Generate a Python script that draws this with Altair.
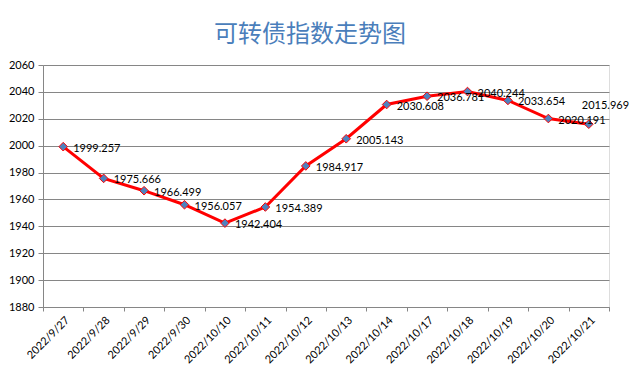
import altair as alt
import pandas as pd

dates = ["2022/9/27", "2022/9/28", "2022/9/29", "2022/9/30", "2022/10/10",
         "2022/10/11", "2022/10/12", "2022/10/13", "2022/10/14", "2022/10/17",
         "2022/10/18", "2022/10/19", "2022/10/20", "2022/10/21"]
values = [1999.257, 1975.666, 1966.499, 1956.057, 1942.404,
          1954.389, 1984.917, 2005.143, 2030.608, 2036.781,
          2040.244, 2033.654, 2020.191, 2015.969]

df = pd.DataFrame({"date": dates, "value": values})
df["label"] = df["value"].map(lambda v: f"{v:.3f}")
df["idx"] = range(len(df))
last = len(df) - 1

x = alt.X("date:N", sort=None, title=None,
          scale=alt.Scale(paddingInner=0, paddingOuter=0),
          axis=alt.Axis(labelAngle=-45, labelFontSize=11, labelColor="#000000",
                        labelFont="Lato", tickBand="extent", tickColor="#868686",
                        domainColor="#868686", tickSize=4, labelPadding=3,
                        grid=False))
y = alt.Y("value:Q", title=None,
          scale=alt.Scale(domain=[1880, 2060], nice=False, zero=False),
          axis=alt.Axis(values=list(range(1880, 2061, 20)), format="d", labelFontSize=11,
                        labelColor="#000000", labelFont="Lato", gridColor="#868686",
                        domainColor="#868686", tickColor="#868686", tickSize=5,
                        labelPadding=4))

base = alt.Chart(df).encode(x=x, y=y)

line = base.mark_line(color="#FF0000", strokeWidth=3)
pts = base.mark_point(shape="diamond", filled=True, fill="#4F81BD",
                      stroke="#FF0000", strokeWidth=1, opacity=1, size=75)
labels = base.mark_text(align="left", baseline="middle", dx=10, dy=2,
                        fontSize=11, font="Lato", color="#000000").encode(
    text="label:N").transform_filter(alt.datum.idx < last)
last_label = base.mark_text(align="left", baseline="middle", dx=-7, dy=-18,
                            fontSize=11, font="Lato", color="#000000").encode(
    text="label:N").transform_filter(alt.datum.idx == last)

chart = alt.layer(line, pts, labels, last_label).properties(
    width=566, height=242,
    title=alt.TitleParams("可转债指数走势图", font="Noto Sans CJK SC", fontSize=24,
                          fontWeight="normal", color="#4A7EBB", anchor="middle",
                          dx=-16, offset=12),
    autosize=alt.AutoSizeParams(type="none"),
    padding={"left": 43, "top": 65, "right": 27, "bottom": 69},
).configure_view(stroke=None).configure(background="#FFFFFF")

chart.save("out.html", embed_options={"renderer": "svg", "actions": False})
